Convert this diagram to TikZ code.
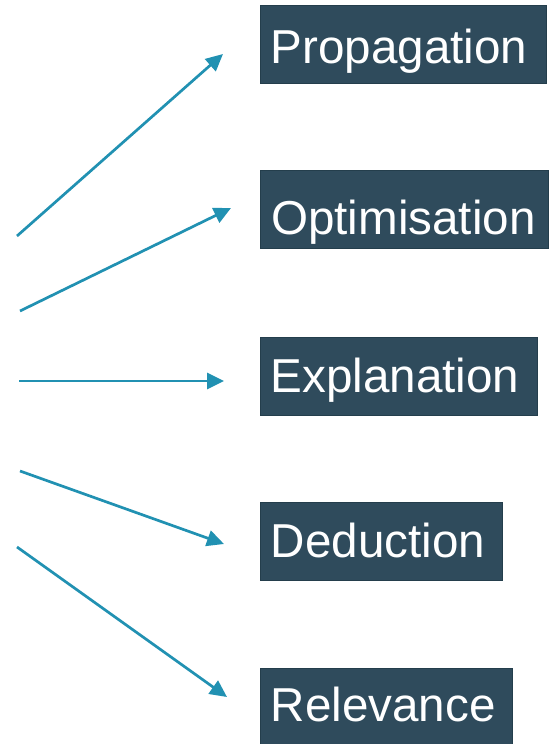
\documentclass[tikz,border=0pt]{standalone}
\usepackage{fontspec}
\setmainfont{Liberation Sans}
\usetikzlibrary{arrows.meta,calc}
\definecolor{boxfill}{HTML}{2F4B5C}
\definecolor{boxline}{HTML}{243E4C}
\definecolor{arrowc}{HTML}{2191B2}
\tikzset{
  box/.style={draw=boxline, fill=boxfill, line width=1.2pt, minimum height=78pt, anchor=north west, inner sep=0pt},
  lbl/.style={text=white, font=\fontsize{47.6}{56}\selectfont, inner sep=0pt, anchor=base west},
  arr/.style={draw=arrowc, line width=2.7pt, -{Triangle[length=17pt,width=16pt]}}
}
\begin{document}
\begin{tikzpicture}[x=1pt,y=-1pt]
\useasboundingbox (0,0) rectangle (550,744);
% boxes
\node[box, minimum width=286pt] (bp) at (260,5) {};
\node[box, minimum width=288pt] (bo) at (260,170) {};
\node[box, minimum width=277pt] (be) at (260,337) {};
\node[box, minimum width=242pt] (bd) at (260,502) {};
\node[box, minimum width=252pt] (br) at (260,668) {};
% labels
\node[lbl] (tp) at (270.5,63) {Propagation};
\node[lbl] (to) at (271,234) {Optimisation};
\node[lbl] (te) at (270.5,392) {Explanation};
\node[lbl] (td) at (270.5,557) {Deduction};
\node[lbl] (tr) at (270.5,721) {Relevance};
% arrow ends
\coordinate (s1) at (17,236);
\coordinate (e1) at (223,54);
\coordinate (s2) at (20,311);
\coordinate (e2) at (231,208);
\coordinate (s3) at (19,381);
\coordinate (e3) at (224,381);
\coordinate (s4) at (20,471);
\coordinate (e4) at (224,544);
\coordinate (s5) at (17,547);
\coordinate (e5) at (227,697);
\draw[arr] (s1) -- (e1);
\draw[arr] (s2) -- (e2);
\draw[arr] (s3) -- (e3);
\draw[arr] (s4) -- (e4);
\draw[arr] (s5) -- (e5);
\end{tikzpicture}
\end{document}
